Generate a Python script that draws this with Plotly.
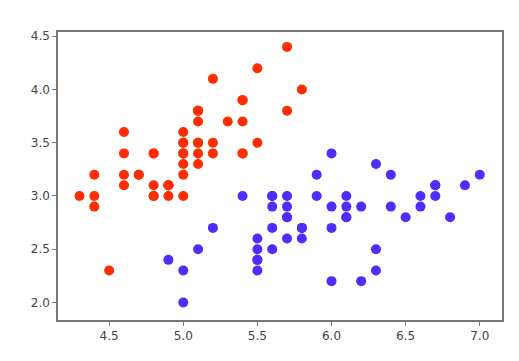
import plotly.graph_objects as go

setosa_x = [5.1,4.9,4.7,4.6,5.0,5.4,4.6,5.0,4.4,4.9,5.4,4.8,4.8,4.3,5.8,5.7,5.4,5.1,5.7,5.1,
            5.4,5.1,4.6,5.1,4.8,5.0,5.0,5.2,5.2,4.7,4.8,5.4,5.2,5.5,4.9,5.0,5.5,4.9,4.4,5.1,
            5.0,4.5,4.4,5.0,5.1,4.8,5.1,4.6,5.3,5.0]
setosa_y = [3.5,3.0,3.2,3.1,3.6,3.9,3.4,3.4,2.9,3.1,3.7,3.4,3.0,3.0,4.0,4.4,3.9,3.5,3.8,3.8,
            3.4,3.7,3.6,3.3,3.4,3.0,3.4,3.5,3.4,3.2,3.1,3.4,4.1,4.2,3.1,3.2,3.5,3.1,3.0,3.4,
            3.5,2.3,3.2,3.5,3.8,3.0,3.8,3.2,3.7,3.3]
versi_x = [7.0,6.4,6.9,5.5,6.5,5.7,6.3,4.9,6.6,5.2,5.0,5.9,6.0,6.1,5.6,6.7,5.6,5.8,6.2,5.6,
           5.9,6.1,6.3,6.1,6.4,6.6,6.8,6.7,6.0,5.7,5.5,5.5,5.8,6.0,5.4,6.0,6.7,6.3,5.6,5.5,
           5.5,6.1,5.8,5.0,5.6,5.7,5.7,6.2,5.1,5.7]
versi_y = [3.2,3.2,3.1,2.3,2.8,2.8,3.3,2.4,2.9,2.7,2.0,3.0,2.2,2.9,2.9,3.1,3.0,2.7,2.2,2.5,
           3.2,2.8,2.5,2.8,2.9,3.0,2.8,3.0,2.9,2.6,2.4,2.4,2.7,2.7,3.0,3.4,3.1,2.3,3.0,2.5,
           2.6,3.0,2.6,2.3,2.7,3.0,2.9,2.9,2.5,2.8]

x_ticks = [4.5, 5.0, 5.5, 6.0, 6.5, 7.0]
y_ticks = [2.0, 2.5, 3.0, 3.5, 4.0, 4.5]

fig = go.Figure()
fig.add_trace(go.Scatter(x=setosa_x, y=setosa_y, mode="markers",
                         marker=dict(color="#ff2d00", size=10, line=dict(width=0)), showlegend=False))
fig.add_trace(go.Scatter(x=versi_x, y=versi_y, mode="markers",
                         marker=dict(color="#4f2dff", size=10, line=dict(width=0)), showlegend=False))

axis_common = dict(showgrid=False, zeroline=False, showline=True, mirror=True,
                   linecolor="#777777", linewidth=1.5, ticks="outside", ticklen=4,
                   tickcolor="#777777", tickwidth=1,
                   tickfont=dict(family="DejaVu Sans", size=12, color="#444444"))

fig.update_layout(
    width=519, height=361,
    margin=dict(l=58, r=17, t=32, b=41),
    paper_bgcolor="white", plot_bgcolor="white",
    xaxis=dict(range=[4.155, 7.15], tickvals=x_ticks, ticktext=[f"{v:.1f}" for v in x_ticks], **axis_common),
    yaxis=dict(range=[1.835, 4.54], tickvals=y_ticks, ticktext=[f"{v:.1f}" for v in y_ticks], **axis_common),
)

fig.write_html("out.html")
